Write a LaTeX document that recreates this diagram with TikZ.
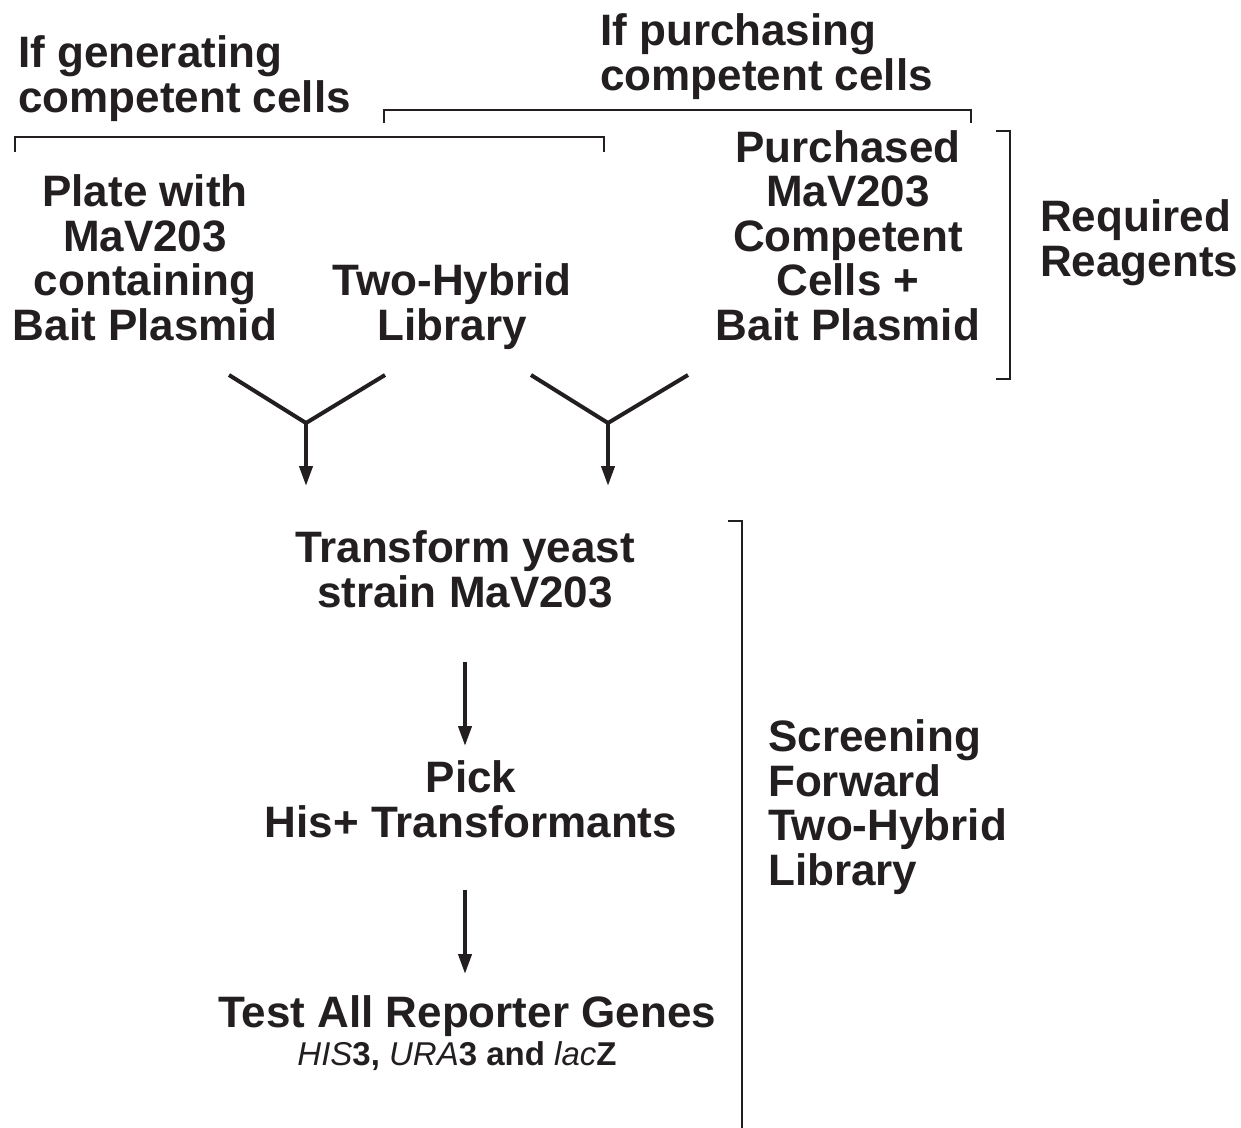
\documentclass[tikz,border=0pt]{standalone}
\usepackage{fontspec}
\setmainfont{Liberation Sans}
\usetikzlibrary{arrows.meta}
\definecolor{ink}{RGB}{35,31,32}
\begin{document}
\begin{tikzpicture}[x=1pt,y=-1pt,
  big/.style={font=\bfseries\fontsize{44}{44.5}\selectfont, text=ink, inner sep=0pt, align=center},
  bigl/.style={big, align=left},
  brk/.style={draw=ink, line width=2.5pt},
  merge/.style={draw=ink, line width=4pt, line join=miter},
  flow/.style={draw=ink, line width=4pt, -{Triangle[length=20pt,width=13pt]}}]
\useasboundingbox[fill=white] (0,0) rectangle (1241,1127);

% headings of the two alternative routes (base = baseline of the last line)
\node[bigl, anchor=base west] (gen) at (18,112) {If generating\\competent cells};
\node[bigl, anchor=base west] (pur) at (600,90) {If purchasing\\competent cells};

% reagents
\node[big, anchor=base] (plate) at (145,340) {Plate with\\MaV203\\containing\\Bait Plasmid};
\node[big, anchor=base] (lib) at (452,340) {Two-Hybrid\\Library};
\node[big, anchor=base] (bought) at (848,340) {Purchased\\MaV203\\Competent\\Cells +\\Bait Plasmid};
\node[bigl, anchor=base west] (req) at (1040,276) {Required\\Reagents};

% screening steps
\node[big, anchor=base] (transform) at (465,607) {Transform yeast\\strain MaV203};
\node[big, anchor=base] (pick) at (471,837) {Pick\\His+ Transformants};
\node[big, anchor=base] (test) at (467,1027) {Test All Reporter Genes};
\node[anchor=base, inner sep=0pt, text=ink, font=\bfseries\fontsize{33}{33}\selectfont] (genes) at (457,1065)
  {\textit{\mdseries HIS}3, \textit{\mdseries URA}3 and \textit{\mdseries lac}Z};
\node[bigl, anchor=base west] (screen) at (768,885) {Screening\\Forward\\Two-Hybrid\\Library};

% brackets
\coordinate (g1) at (15,152);  \coordinate (g2) at (15,137);
\coordinate (g3) at (604,137); \coordinate (g4) at (604,152);
\draw[brk] (g1) -- (g2) -- (g3) -- (g4);
\coordinate (p1) at (384,123); \coordinate (p2) at (384,110);
\coordinate (p3) at (971,110); \coordinate (p4) at (971,123);
\draw[brk] (p1) -- (p2) -- (p3) -- (p4);
\coordinate (r1) at (996,131);  \coordinate (r2) at (1010,131);
\coordinate (r3) at (1010,379); \coordinate (r4) at (996,379);
\draw[brk] (r1) -- (r2) -- (r3) -- (r4);
\coordinate (s1) at (728,521); \coordinate (s2) at (742,521); \coordinate (s3) at (742,1132);
\draw[brk] (s1) -- (s2) -- (s3);

% merging arrows
\coordinate (a1) at (229,375); \coordinate (a2) at (385,375);
\coordinate (j1) at (306,423); \coordinate (t1) at (306,486);
\draw[merge] (a1) -- (j1) -- (a2);
\draw[flow] (j1) -- (t1);
\coordinate (b1) at (531,375); \coordinate (b2) at (688,375);
\coordinate (j2) at (608,423); \coordinate (t2) at (608,486);
\draw[merge] (b1) -- (j2) -- (b2);
\draw[flow] (j2) -- (t2);

% step arrows
\coordinate (u1) at (465,662); \coordinate (u2) at (465,746);
\draw[flow] (u1) -- (u2);
\coordinate (v1) at (465,890); \coordinate (v2) at (465,974);
\draw[flow] (v1) -- (v2);
\end{tikzpicture}
\end{document}
